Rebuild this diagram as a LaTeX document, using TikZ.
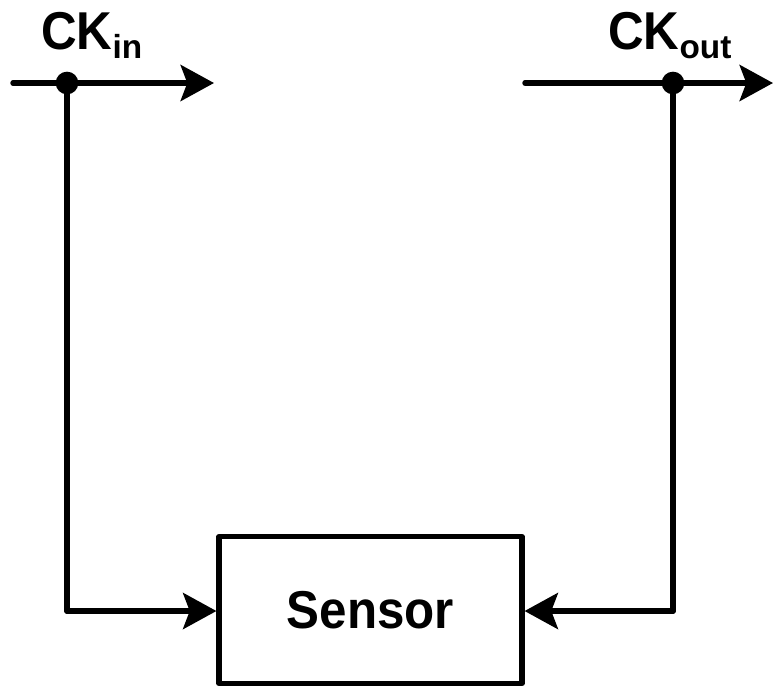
\documentclass[tikz,border=0pt]{standalone}
\usepackage{fontspec}
\setmainfont{Liberation Sans}
\usetikzlibrary{arrows.meta}
\tikzset{
  wire/.style={line width=4.1pt, line cap=round, line join=round},
  arr/.style={wire, -{Stealth[length=25pt, width=27pt, inset=5pt]}},
  dotnode/.style={circle, fill=black, inner sep=0pt, minimum size=17pt},
  box/.style={draw, line width=4.1pt, line join=round, minimum width=227pt, minimum height=110pt, inner sep=0pt,
    font=\fontsize{37}{40}\selectfont\bfseries},
  lbl/.style={anchor=base west, inner sep=0pt, font=\fontsize{37}{40}\selectfont\bfseries},
}
\newcommand{\mysub}[1]{\raisebox{-6.75pt}{\fontsize{25}{27}\selectfont\bfseries #1}}
\begin{document}
\begin{tikzpicture}[x=0.75pt,y=-0.75pt]
\useasboundingbox (0,0) rectangle (773,687);
% labels
\node[lbl] (ckin) at (41,49) {\scalebox{1}[1.08]{CK}\mysub{in}};
\node[lbl] (ckout) at (608,49) {\scalebox{1}[1.08]{CK}\mysub{out}};
% top wires
\coordinate (inA) at (13,83);
\coordinate (inB) at (214,83);
\coordinate (outA) at (525,83);
\coordinate (outB) at (773,83);
\node[dotnode] (din) at (67,83) {};
\node[dotnode] (dout) at (673,83) {};
% sensor box
\node[box] (sensor) at (370.5,610) {\scalebox{1}[1.08]{Sensor}};
\coordinate (cl) at (67,611);
\coordinate (cr) at (673,611);
\draw[arr] (inA) -- (inB);
\draw[arr] (outA) -- (outB);
\draw[wire] (din.center) -- (cl);
\draw[wire] (dout.center) -- (cr);
\draw[arr] (cl) -- (cl -| sensor.west);
\draw[arr] (cr) -- (cr -| sensor.east);
\end{tikzpicture}
\end{document}
